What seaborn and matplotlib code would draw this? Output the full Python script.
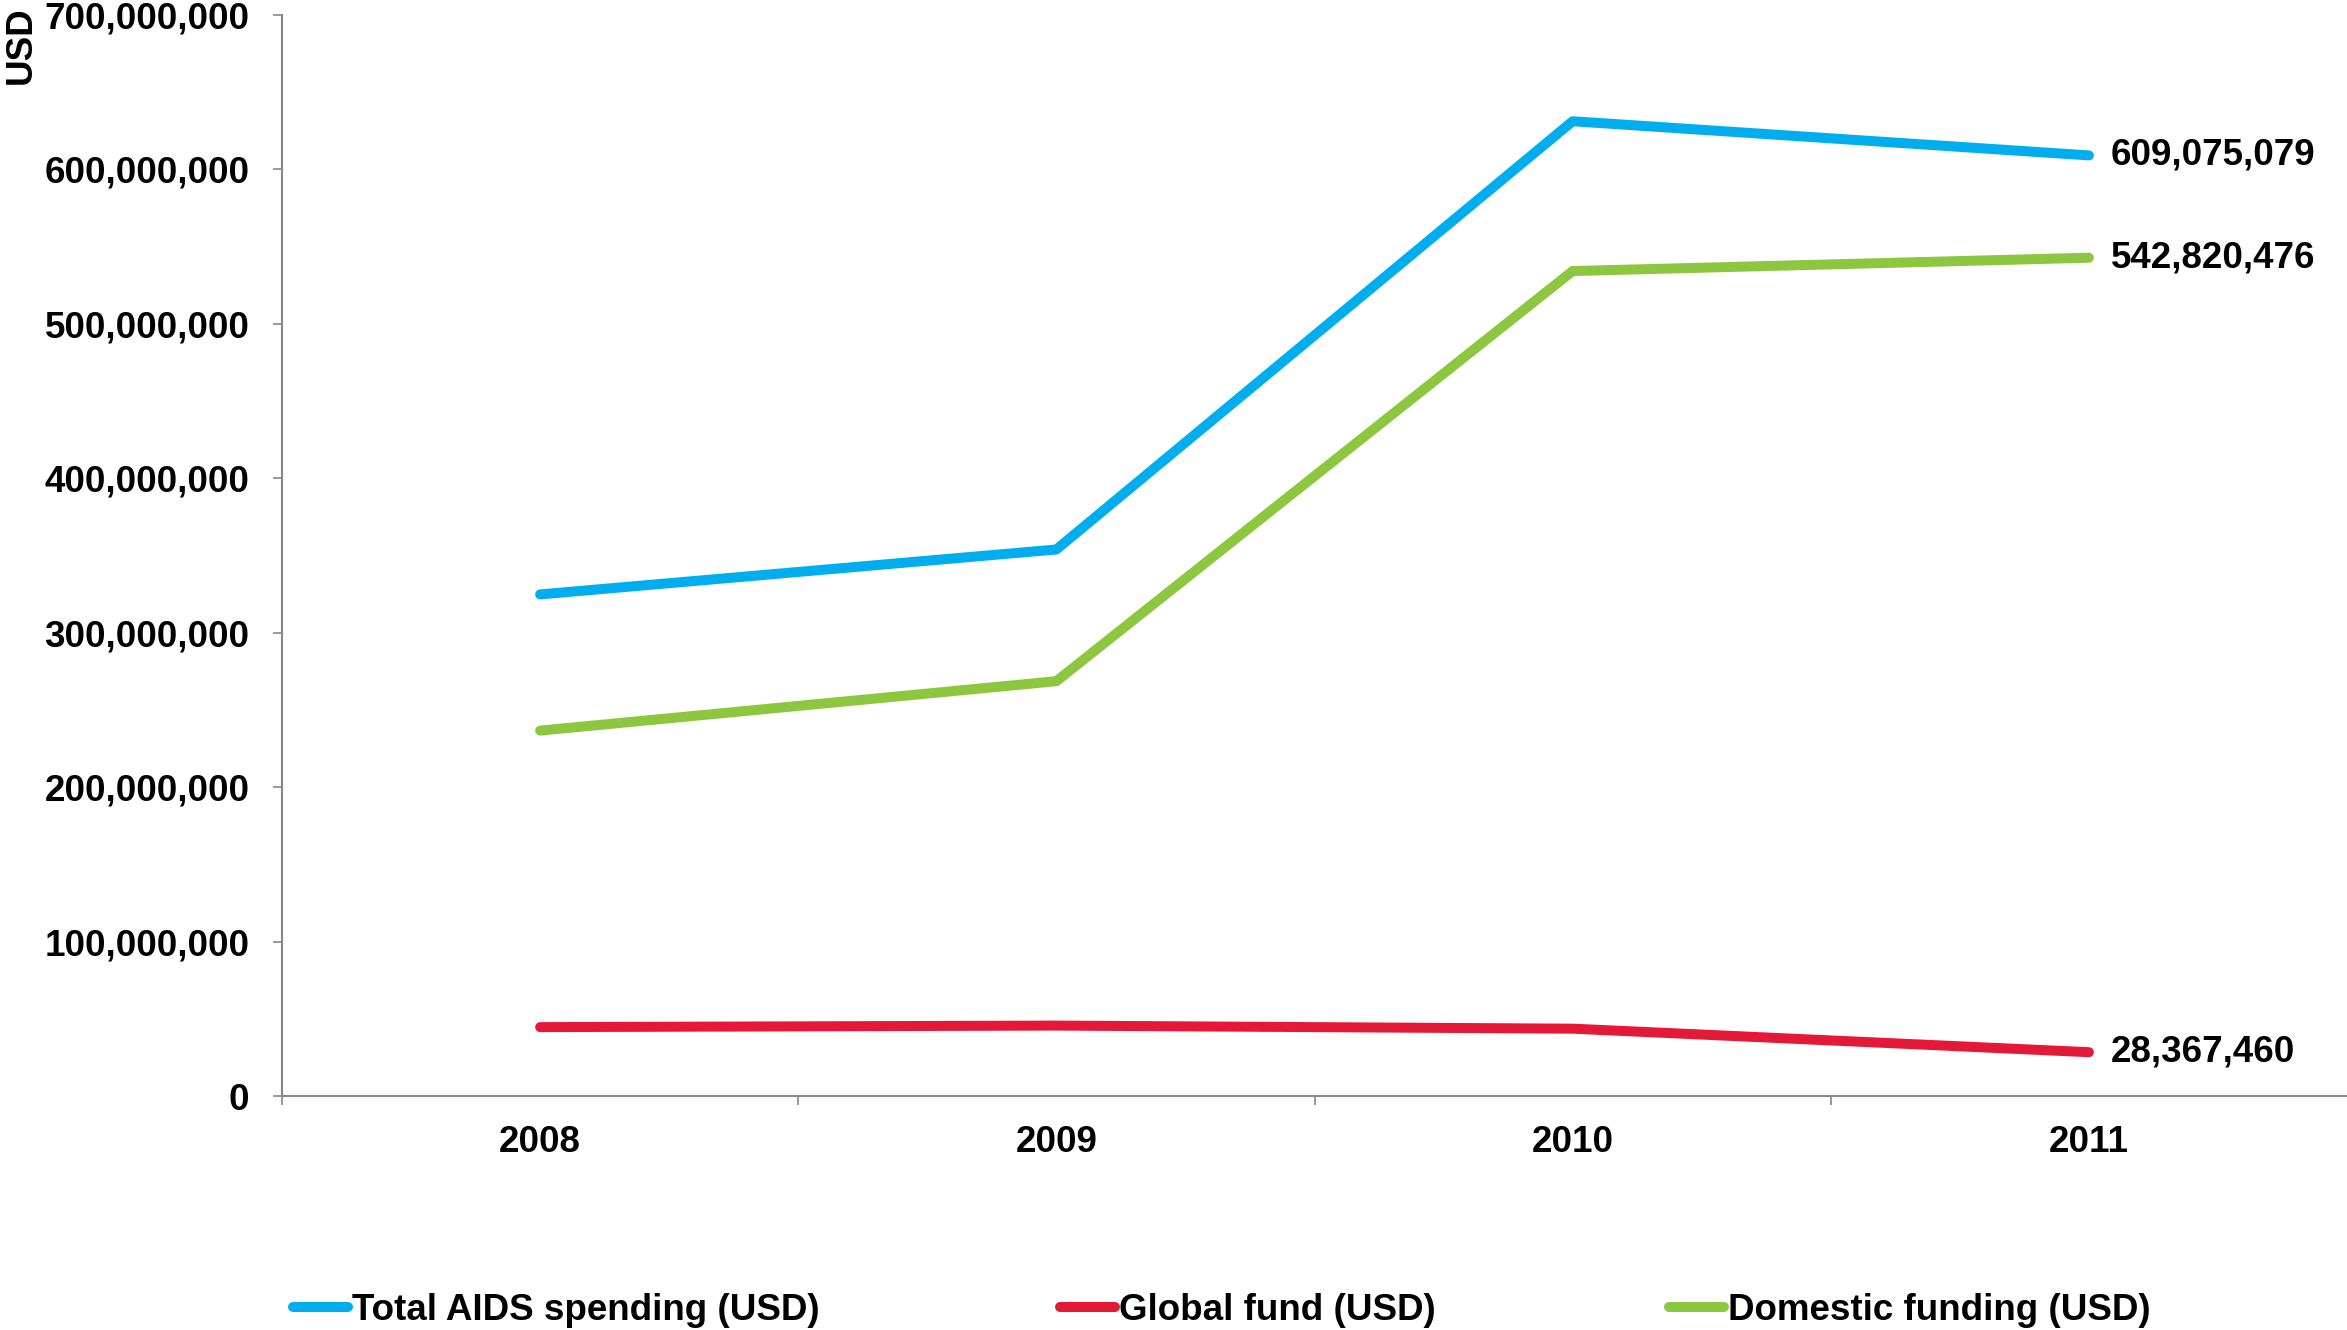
import numpy as np
import pandas as pd
import matplotlib
matplotlib.use("Agg")
import matplotlib.pyplot as plt
import seaborn as sns
from matplotlib.ticker import FuncFormatter
from matplotlib.lines import Line2D

years = ["2008", "2009", "2010", "2011"]
total_aids = [324800000, 353900000, 631200000, 609075079]
global_fund = [44600000, 45600000, 43600000, 28367460]
domestic = [236600000, 268600000, 534200000, 542820476]
series_names = ["Total AIDS spending (USD)", "Global fund (USD)", "Domestic funding (USD)"]
colors = ["#00AEEF", "#E31937", "#8DC63F"]

sns.set_theme(style="white")
plt.rcParams['font.family'] = ['Liberation Sans', 'DejaVu Sans']
plt.rcParams['font.weight'] = 'bold'
plt.rcParams['text.color'] = 'black'
plt.rcParams['xtick.color'] = '#888888'
plt.rcParams['ytick.color'] = '#888888'
plt.rcParams['xtick.labelcolor'] = 'black'
plt.rcParams['ytick.labelcolor'] = 'black'

FS = 26.5

df = pd.DataFrame({
    "x": list(range(4)) * 3,
    "value": total_aids + global_fund + domestic,
    "series": [series_names[0]] * 4 + [series_names[1]] * 4 + [series_names[2]] * 4,
})

fig = plt.figure(figsize=(23.47, 13.30), dpi=100)
ax = fig.add_axes([282 / 2347, 1 - 1096 / 1330, 1 - 282 / 2347, (1096 - 15) / 1330])

sns.lineplot(data=df, x="x", y="value", hue="series", palette=colors,
             hue_order=series_names, linewidth=7.2, ax=ax, legend=False,
             solid_capstyle="round")

ax.set_xlim(-0.5, 3.5)
ax.set_ylim(0, 700000000)
ax.set_yticks(np.arange(0, 700000001, 100000000))
ax.yaxis.set_major_formatter(FuncFormatter(lambda v, p: f"{int(v):,}"))
ax.set_xticks([-0.5, 0.5, 1.5, 2.5])
ax.set_xticklabels([])
ax.set_xticks(range(4), minor=True)
ax.set_xticklabels(years, minor=True)
ax.tick_params(axis="x", which="major", bottom=True, direction="out", length=6.5, width=1.2)
ax.tick_params(axis="x", which="minor", bottom=True, length=0, pad=21, labelsize=FS, labelcolor="black")
ax.tick_params(axis="y", left=True, direction="out", length=6.5, width=1.2, pad=17,
               labelsize=FS, labelcolor="black")
for lab in ax.get_xticklabels(minor=True) + ax.get_yticklabels():
    lab.set_fontweight("bold")

for s in ["top", "right"]:
    ax.spines[s].set_visible(False)
for s in ["left", "bottom"]:
    ax.spines[s].set_color("#888888")
    ax.spines[s].set_linewidth(1.5)
ax.set_xlabel("")
ax.set_ylabel("")

for vals in [total_aids, domestic, global_fund]:
    ax.annotate(f"{vals[-1]:,}", xy=(3, vals[-1]), xytext=(16, 0), textcoords="offset points",
                ha="left", va="center", fontsize=FS, fontweight="bold", color="black")

fig.text(21 / 2347, 1 - 6 / 1330, "USD", rotation=90, ha="center", va="top",
         fontsize=FS, fontweight="bold", color="black")

starts = [293, 1060, 1669]
for name, col, xs in zip(series_names, colors, starts):
    h = Line2D([0], [0], color=col, linewidth=7.2, solid_capstyle="round")
    fig.legend([h], [name], loc="center left", bbox_to_anchor=(xs / 2347, 1 - 1310 / 1330),
               frameon=False, handlelength=1.5, handletextpad=0.1, borderpad=0,
               prop={"size": FS, "weight": "bold"}, borderaxespad=0, labelcolor="black")

fig.savefig("out.png", dpi=100)
